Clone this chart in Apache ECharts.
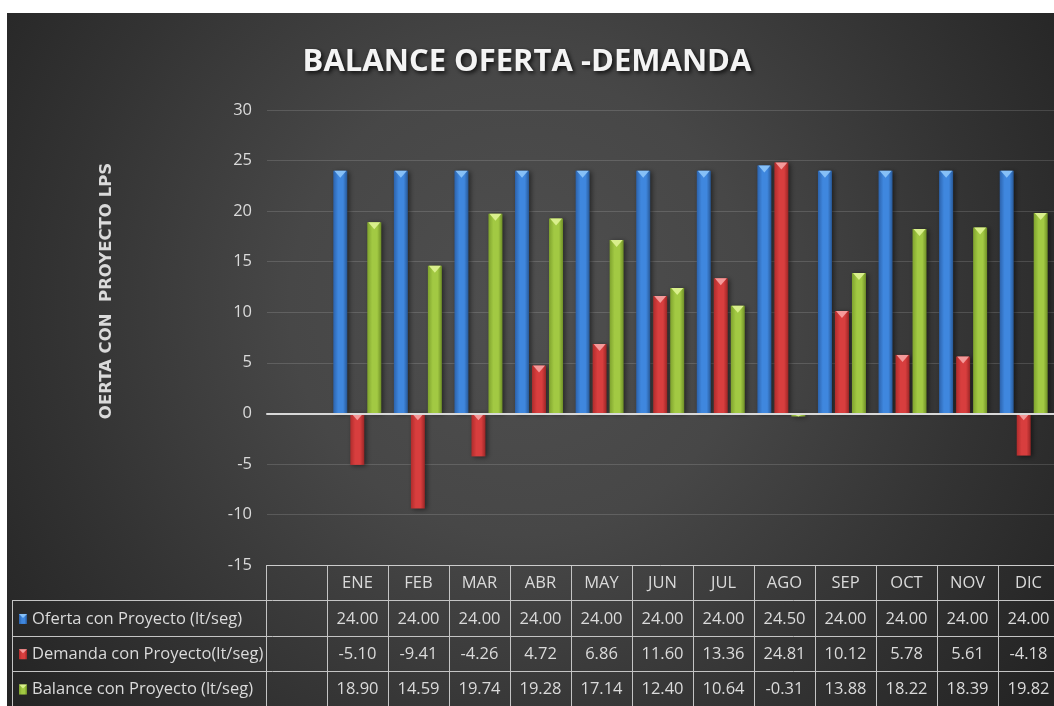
<!DOCTYPE html>
<html><head><meta charset="utf-8">
<script src="https://cdn.jsdelivr.net/npm/echarts@6/dist/echarts.min.js"></script>
<style>html,body{margin:0;padding:0;background:#fff;}#c{width:1054px;height:706px;}</style>
</head><body><div id="c"></div>
<script>
// ---- data ----
const chartTitle = 'BALANCE OFERTA -DEMANDA';
const yAxisName = 'OERTA CON  PROYECTO LPS';
const months = ['ENE','FEB','MAR','ABR','MAY','JUN','JUL','AGO','SEP','OCT','NOV','DIC'];
const oferta  = [24.00,24.00,24.00,24.00,24.00,24.00,24.00,24.50,24.00,24.00,24.00,24.00];
const demanda = [-5.10,-9.41,-4.26,4.72,6.86,11.60,13.36,24.81,10.12,5.78,5.61,-4.18];
const balance = [18.90,14.59,19.74,19.28,17.14,12.40,10.64,-0.31,13.88,18.22,18.39,19.82];
const seriesNames = ['Oferta con Proyecto (lt/seg)','Demanda con Proyecto(lt/seg)','Balance con Proyecto (lt/seg)'];
const yMin = -15, yMax = 30, yInterval = 5;

// ---- layout / style ----
const L = {bgX:7,bgY:13,axisX:267,plotTop:110,plotH:455,colStart:327,colW:61,tableLeft:12,tableTop:565,rowH:35.3,barW:14,barGap:3};
const palettes = [
  {l:'#2c63ad',m:'#3f87de',r:'#285896',cap:'#86c0f7'},
  {l:'#b02c2c',m:'#d83e3e',r:'#9c2626',cap:'#f49a9a'},
  {l:'#7fa32e',m:'#a2c943',r:'#6f8f27',cap:'#d9ef8c'}
];
const seriesData = [oferta, demanda, balance];
const FONT = '"Open Sans", "Noto Sans", sans-serif';
const TXT = '#dadada';

function grad(p){
  return new echarts.graphic.LinearGradient(0,0,1,0,[
    {offset:0,color:p.l},{offset:0.35,color:p.m},{offset:0.7,color:p.m},{offset:1,color:p.r}]);
}
function makeRender(si){
  const p = palettes[si];
  return function(params, api){
    const idx = api.value(0), v = api.value(1);
    const p0 = api.coord([idx, 0]), p1 = api.coord([idx, v]);
    const w = L.barW, off = (si-1)*(L.barW+L.barGap);
    const x = p0[0] + off - w/2;
    const top = Math.min(p0[1], p1[1]), h = Math.abs(p1[1]-p0[1]);
    const capH = Math.min(7, Math.max(h, 2));
    return {type:'group', children:[
      {type:'rect', shape:{x:x, y:top, width:w, height:h},
       style:{fill:grad(p), shadowBlur:5, shadowColor:'rgba(0,0,0,0.5)', shadowOffsetX:2, shadowOffsetY:1}},
      {type:'polygon', shape:{points:[[x+1,top],[x+w-1,top],[x+w/2,top+capH]]}, style:{fill:p.cap}}
    ]};
  };
}

// ---- table graphics ----
const g = [];
g.push({type:'rect', z:-10, shape:{x:L.bgX,y:L.bgY,width:1054-L.bgX,height:706-L.bgY},
  style:{fill:{type:'radial',x:0.49,y:0.42,r:0.95,colorStops:[
    {offset:0,color:'#4f4f4f'},{offset:0.35,color:'#474747'},{offset:0.7,color:'#333333'},{offset:1,color:'#232323'}]}}});
g.push({type:'text', x:107, y:291, rotation:Math.PI/2,
  style:{text:yAxisName, fill:TXT, font:'bold 16.5px "DejaVu Sans", sans-serif', textAlign:'center', textVerticalAlign:'middle'}});
const lineStyle = {stroke:'#c4c4c4', lineWidth:1};
const tableRight = 1054;
const nCols = months.length;
g.push({type:'line', shape:{x1:L.axisX,y1:L.tableTop+0.5,x2:tableRight,y2:L.tableTop+0.5}, style:lineStyle});
for (let k=1;k<=3;k++){
  const y = Math.round(L.tableTop + L.rowH*k)+0.5;
  g.push({type:'line', shape:{x1:L.tableLeft,y1:y,x2:tableRight,y2:y}, style:lineStyle});
}
g.push({type:'line', shape:{x1:L.tableLeft+0.5,y1:L.tableTop+L.rowH,x2:L.tableLeft+0.5,y2:706}, style:lineStyle});
g.push({type:'line', shape:{x1:L.axisX-0.5,y1:L.tableTop,x2:L.axisX-0.5,y2:706}, style:lineStyle});
for (let k=0;k<=nCols;k++){
  const x = L.colStart + L.colW*k + 0.5;
  g.push({type:'line', shape:{x1:x,y1:L.tableTop,x2:x,y2:706}, style:lineStyle});
}
months.forEach((m,i)=>{
  g.push({type:'text', x:L.colStart+L.colW*(i+0.5), y:L.tableTop+L.rowH/2+1,
    style:{text:m, fill:TXT, font:'16.5px '+FONT, textAlign:'center', textVerticalAlign:'middle'}});
});
seriesData.forEach((arr,si)=>{
  const yc = L.tableTop + L.rowH*(si+1.5)+1;
  const p = palettes[si];
  g.push({type:'rect', shape:{x:19,y:yc-5,width:8,height:10}, style:{fill:grad(p)}});
  g.push({type:'polygon', shape:{points:[[19,yc-5],[27,yc-5],[23,yc-1]]}, style:{fill:p.cap}});
  g.push({type:'text', x:32, y:yc, style:{text:seriesNames[si], fill:TXT, font:'16.5px '+FONT, textAlign:'left', textVerticalAlign:'middle'}});
  arr.forEach((v,i)=>{
    g.push({type:'text', x:L.colStart+L.colW*(i+0.5), y:yc,
      style:{text:v.toFixed(2), fill:TXT, font:'16.5px '+FONT, textAlign:'center', textVerticalAlign:'middle'}});
  });
});

const chart = echarts.init(document.getElementById('c'), null, {renderer:'canvas'});
chart.setOption({
  backgroundColor:'#ffffff',
  animation:false,
  title:{text:chartTitle, left:'center', top:42,
    textStyle:{color:'#f4f4f4', fontSize:31, fontWeight:'bold', fontFamily:FONT,
      textShadowColor:'rgba(0,0,0,0.8)', textShadowBlur:4, textShadowOffsetX:2, textShadowOffsetY:2}},
  grid:[
    {left:L.axisX, right:0, top:L.plotTop, height:L.plotH},
    {left:L.colStart, width:L.colW*nCols, top:L.plotTop, height:L.plotH}
  ],
  xAxis:[
    {gridIndex:0, type:'value', min:0, max:1, z:10,
      axisLine:{show:true, onZero:true, lineStyle:{color:'#d8d8d8', width:2}},
      axisTick:{show:false}, axisLabel:{show:false}, splitLine:{show:false}},
    {gridIndex:1, type:'category', data:months, show:false}
  ],
  yAxis:[
    {gridIndex:0, type:'value', min:yMin, max:yMax, interval:yInterval,
      axisLine:{show:false}, axisTick:{show:false},
      axisLabel:{color:TXT, fontSize:16.5, fontFamily:FONT, margin:15},
      splitLine:{lineStyle:{color:'rgba(255,255,255,0.14)', width:1}}},
    {gridIndex:1, type:'value', min:yMin, max:yMax, interval:yInterval, show:false, splitLine:{show:false}}
  ],
  series: seriesData.map((arr,si)=>({
    type:'custom', name:seriesNames[si], xAxisIndex:1, yAxisIndex:1,
    renderItem:makeRender(si), encode:{x:0,y:1},
    data:arr.map((v,i)=>[i,v])
  })),
  graphic:g
});
</script></body></html>
